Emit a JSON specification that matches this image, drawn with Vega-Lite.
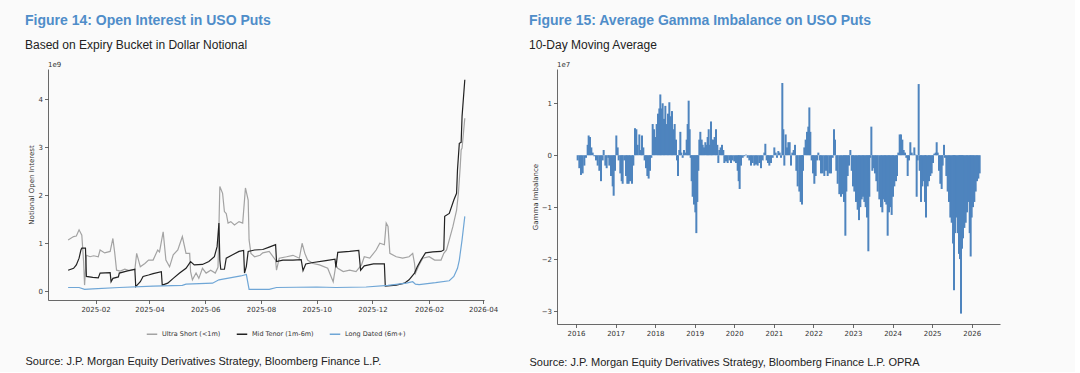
{
  "$schema": "https://vega.github.io/schema/vega-lite/v6.json",
  "background": "#fafafa",
  "padding": {"left": 25, "top": 14, "right": 75, "bottom": 5},
  "spacing": 31,
  "config": {
    "view": {"stroke": null},
    "axis": {"labelFont": "DejaVu Sans", "labelFontSize": 7, "labelColor": "#333", "titleFont": "DejaVu Sans", "titleFontSize": 7, "titleFontWeight": "normal", "titleColor": "#333", "domainColor": "#444", "tickColor": "#444", "domainWidth": 0.8, "tickWidth": 0.8, "tickSize": 3.5, "grid": false, "labelPadding": 2},
    "title": {"anchor": "start", "frame": "bounds", "font": "Liberation Sans", "fontSize": 14, "fontWeight": "bold", "color": "#4f8dc9", "subtitleFont": "Liberation Sans", "subtitleFontSize": 12, "subtitleColor": "#222", "subtitlePadding": 12, "offset": 10}
  },
  "datasets": {
    "oi": [
      {"date": "2025-01-02", "bucket": "Ultra Short (<1m)", "oi": 1.07},
      {"date": "2025-01-08", "bucket": "Ultra Short (<1m)", "oi": 1.14},
      {"date": "2025-01-11", "bucket": "Ultra Short (<1m)", "oi": 1.15},
      {"date": "2025-01-14", "bucket": "Ultra Short (<1m)", "oi": 1.28},
      {"date": "2025-01-17", "bucket": "Ultra Short (<1m)", "oi": 1.17},
      {"date": "2025-01-19", "bucket": "Ultra Short (<1m)", "oi": 0.6},
      {"date": "2025-01-20", "bucket": "Ultra Short (<1m)", "oi": 0.13},
      {"date": "2025-01-22", "bucket": "Ultra Short (<1m)", "oi": 0.75},
      {"date": "2025-01-26", "bucket": "Ultra Short (<1m)", "oi": 0.72},
      {"date": "2025-01-30", "bucket": "Ultra Short (<1m)", "oi": 0.74},
      {"date": "2025-02-04", "bucket": "Ultra Short (<1m)", "oi": 0.72},
      {"date": "2025-02-06", "bucket": "Ultra Short (<1m)", "oi": 0.86},
      {"date": "2025-02-11", "bucket": "Ultra Short (<1m)", "oi": 0.8},
      {"date": "2025-02-17", "bucket": "Ultra Short (<1m)", "oi": 0.83},
      {"date": "2025-02-20", "bucket": "Ultra Short (<1m)", "oi": 1.1},
      {"date": "2025-02-22", "bucket": "Ultra Short (<1m)", "oi": 0.8},
      {"date": "2025-02-24", "bucket": "Ultra Short (<1m)", "oi": 0.44},
      {"date": "2025-02-28", "bucket": "Ultra Short (<1m)", "oi": 0.42},
      {"date": "2025-03-05", "bucket": "Ultra Short (<1m)", "oi": 0.46},
      {"date": "2025-03-10", "bucket": "Ultra Short (<1m)", "oi": 0.43},
      {"date": "2025-03-16", "bucket": "Ultra Short (<1m)", "oi": 0.45},
      {"date": "2025-03-18", "bucket": "Ultra Short (<1m)", "oi": 0.79},
      {"date": "2025-03-22", "bucket": "Ultra Short (<1m)", "oi": 0.51},
      {"date": "2025-03-27", "bucket": "Ultra Short (<1m)", "oi": 0.58},
      {"date": "2025-03-31", "bucket": "Ultra Short (<1m)", "oi": 0.65},
      {"date": "2025-04-05", "bucket": "Ultra Short (<1m)", "oi": 0.65},
      {"date": "2025-04-10", "bucket": "Ultra Short (<1m)", "oi": 0.86},
      {"date": "2025-04-12", "bucket": "Ultra Short (<1m)", "oi": 0.82},
      {"date": "2025-04-16", "bucket": "Ultra Short (<1m)", "oi": 1.24},
      {"date": "2025-04-19", "bucket": "Ultra Short (<1m)", "oi": 0.65},
      {"date": "2025-04-23", "bucket": "Ultra Short (<1m)", "oi": 0.51},
      {"date": "2025-04-27", "bucket": "Ultra Short (<1m)", "oi": 0.76},
      {"date": "2025-05-02", "bucket": "Ultra Short (<1m)", "oi": 0.86},
      {"date": "2025-05-07", "bucket": "Ultra Short (<1m)", "oi": 1.14},
      {"date": "2025-05-11", "bucket": "Ultra Short (<1m)", "oi": 0.79},
      {"date": "2025-05-15", "bucket": "Ultra Short (<1m)", "oi": 0.79},
      {"date": "2025-05-16", "bucket": "Ultra Short (<1m)", "oi": 0.41},
      {"date": "2025-05-18", "bucket": "Ultra Short (<1m)", "oi": 0.24},
      {"date": "2025-05-22", "bucket": "Ultra Short (<1m)", "oi": 0.38},
      {"date": "2025-05-25", "bucket": "Ultra Short (<1m)", "oi": 0.27},
      {"date": "2025-05-29", "bucket": "Ultra Short (<1m)", "oi": 0.48},
      {"date": "2025-06-02", "bucket": "Ultra Short (<1m)", "oi": 0.38},
      {"date": "2025-06-07", "bucket": "Ultra Short (<1m)", "oi": 0.44},
      {"date": "2025-06-12", "bucket": "Ultra Short (<1m)", "oi": 0.38},
      {"date": "2025-06-15", "bucket": "Ultra Short (<1m)", "oi": 0.5},
      {"date": "2025-06-17", "bucket": "Ultra Short (<1m)", "oi": 2.18},
      {"date": "2025-06-20", "bucket": "Ultra Short (<1m)", "oi": 2.04},
      {"date": "2025-06-22", "bucket": "Ultra Short (<1m)", "oi": 1.66},
      {"date": "2025-06-24", "bucket": "Ultra Short (<1m)", "oi": 1.62},
      {"date": "2025-06-26", "bucket": "Ultra Short (<1m)", "oi": 1.42},
      {"date": "2025-06-29", "bucket": "Ultra Short (<1m)", "oi": 1.45},
      {"date": "2025-07-03", "bucket": "Ultra Short (<1m)", "oi": 1.38},
      {"date": "2025-07-08", "bucket": "Ultra Short (<1m)", "oi": 1.45},
      {"date": "2025-07-12", "bucket": "Ultra Short (<1m)", "oi": 1.42},
      {"date": "2025-07-15", "bucket": "Ultra Short (<1m)", "oi": 2.15},
      {"date": "2025-07-18", "bucket": "Ultra Short (<1m)", "oi": 1.9},
      {"date": "2025-07-19", "bucket": "Ultra Short (<1m)", "oi": 1.07},
      {"date": "2025-07-21", "bucket": "Ultra Short (<1m)", "oi": 0.79},
      {"date": "2025-07-25", "bucket": "Ultra Short (<1m)", "oi": 0.72},
      {"date": "2025-07-31", "bucket": "Ultra Short (<1m)", "oi": 0.75},
      {"date": "2025-08-03", "bucket": "Ultra Short (<1m)", "oi": 0.8},
      {"date": "2025-08-10", "bucket": "Ultra Short (<1m)", "oi": 0.83},
      {"date": "2025-08-17", "bucket": "Ultra Short (<1m)", "oi": 0.65},
      {"date": "2025-08-18", "bucket": "Ultra Short (<1m)", "oi": 0.44},
      {"date": "2025-08-21", "bucket": "Ultra Short (<1m)", "oi": 0.69},
      {"date": "2025-08-29", "bucket": "Ultra Short (<1m)", "oi": 0.72},
      {"date": "2025-09-05", "bucket": "Ultra Short (<1m)", "oi": 0.75},
      {"date": "2025-09-12", "bucket": "Ultra Short (<1m)", "oi": 0.69},
      {"date": "2025-09-15", "bucket": "Ultra Short (<1m)", "oi": 1.0},
      {"date": "2025-09-18", "bucket": "Ultra Short (<1m)", "oi": 0.79},
      {"date": "2025-09-21", "bucket": "Ultra Short (<1m)", "oi": 0.65},
      {"date": "2025-09-27", "bucket": "Ultra Short (<1m)", "oi": 0.58},
      {"date": "2025-10-04", "bucket": "Ultra Short (<1m)", "oi": 0.55},
      {"date": "2025-10-13", "bucket": "Ultra Short (<1m)", "oi": 0.48},
      {"date": "2025-10-19", "bucket": "Ultra Short (<1m)", "oi": 0.2},
      {"date": "2025-10-22", "bucket": "Ultra Short (<1m)", "oi": 0.55},
      {"date": "2025-10-24", "bucket": "Ultra Short (<1m)", "oi": 0.48},
      {"date": "2025-10-30", "bucket": "Ultra Short (<1m)", "oi": 0.41},
      {"date": "2025-11-06", "bucket": "Ultra Short (<1m)", "oi": 0.44},
      {"date": "2025-11-13", "bucket": "Ultra Short (<1m)", "oi": 0.41},
      {"date": "2025-11-19", "bucket": "Ultra Short (<1m)", "oi": 0.55},
      {"date": "2025-11-22", "bucket": "Ultra Short (<1m)", "oi": 0.72},
      {"date": "2025-11-28", "bucket": "Ultra Short (<1m)", "oi": 0.69},
      {"date": "2025-12-05", "bucket": "Ultra Short (<1m)", "oi": 0.86},
      {"date": "2025-12-09", "bucket": "Ultra Short (<1m)", "oi": 1.0},
      {"date": "2025-12-14", "bucket": "Ultra Short (<1m)", "oi": 0.97},
      {"date": "2025-12-16", "bucket": "Ultra Short (<1m)", "oi": 1.42},
      {"date": "2025-12-18", "bucket": "Ultra Short (<1m)", "oi": 1.35},
      {"date": "2025-12-20", "bucket": "Ultra Short (<1m)", "oi": 0.79},
      {"date": "2025-12-27", "bucket": "Ultra Short (<1m)", "oi": 0.72},
      {"date": "2026-01-03", "bucket": "Ultra Short (<1m)", "oi": 0.69},
      {"date": "2026-01-10", "bucket": "Ultra Short (<1m)", "oi": 0.72},
      {"date": "2026-01-14", "bucket": "Ultra Short (<1m)", "oi": 0.79},
      {"date": "2026-01-16", "bucket": "Ultra Short (<1m)", "oi": 0.58},
      {"date": "2026-01-17", "bucket": "Ultra Short (<1m)", "oi": 0.38},
      {"date": "2026-01-21", "bucket": "Ultra Short (<1m)", "oi": 0.55},
      {"date": "2026-01-25", "bucket": "Ultra Short (<1m)", "oi": 0.69},
      {"date": "2026-02-01", "bucket": "Ultra Short (<1m)", "oi": 0.72},
      {"date": "2026-02-07", "bucket": "Ultra Short (<1m)", "oi": 0.65},
      {"date": "2026-02-14", "bucket": "Ultra Short (<1m)", "oi": 0.65},
      {"date": "2026-02-17", "bucket": "Ultra Short (<1m)", "oi": 0.79},
      {"date": "2026-02-20", "bucket": "Ultra Short (<1m)", "oi": 0.86},
      {"date": "2026-02-23", "bucket": "Ultra Short (<1m)", "oi": 1.07},
      {"date": "2026-02-27", "bucket": "Ultra Short (<1m)", "oi": 1.35},
      {"date": "2026-03-03", "bucket": "Ultra Short (<1m)", "oi": 1.69},
      {"date": "2026-03-05", "bucket": "Ultra Short (<1m)", "oi": 2.04},
      {"date": "2026-03-07", "bucket": "Ultra Short (<1m)", "oi": 2.6},
      {"date": "2026-03-08", "bucket": "Ultra Short (<1m)", "oi": 2.94},
      {"date": "2026-03-09", "bucket": "Ultra Short (<1m)", "oi": 2.98},
      {"date": "2026-03-12", "bucket": "Ultra Short (<1m)", "oi": 3.6},
      {"date": "2025-01-02", "bucket": "Mid Tenor (1m-6m)", "oi": 0.44},
      {"date": "2025-01-08", "bucket": "Mid Tenor (1m-6m)", "oi": 0.48},
      {"date": "2025-01-11", "bucket": "Mid Tenor (1m-6m)", "oi": 0.55},
      {"date": "2025-01-14", "bucket": "Mid Tenor (1m-6m)", "oi": 0.69},
      {"date": "2025-01-16", "bucket": "Mid Tenor (1m-6m)", "oi": 0.86},
      {"date": "2025-01-17", "bucket": "Mid Tenor (1m-6m)", "oi": 0.9},
      {"date": "2025-01-21", "bucket": "Mid Tenor (1m-6m)", "oi": 0.9},
      {"date": "2025-01-22", "bucket": "Mid Tenor (1m-6m)", "oi": 0.31},
      {"date": "2025-01-29", "bucket": "Mid Tenor (1m-6m)", "oi": 0.29},
      {"date": "2025-02-04", "bucket": "Mid Tenor (1m-6m)", "oi": 0.28},
      {"date": "2025-02-06", "bucket": "Mid Tenor (1m-6m)", "oi": 0.38},
      {"date": "2025-02-17", "bucket": "Mid Tenor (1m-6m)", "oi": 0.39},
      {"date": "2025-02-18", "bucket": "Mid Tenor (1m-6m)", "oi": 0.2},
      {"date": "2025-02-20", "bucket": "Mid Tenor (1m-6m)", "oi": 0.27},
      {"date": "2025-02-26", "bucket": "Mid Tenor (1m-6m)", "oi": 0.3},
      {"date": "2025-02-27", "bucket": "Mid Tenor (1m-6m)", "oi": 0.38},
      {"date": "2025-03-07", "bucket": "Mid Tenor (1m-6m)", "oi": 0.42},
      {"date": "2025-03-16", "bucket": "Mid Tenor (1m-6m)", "oi": 0.46},
      {"date": "2025-03-17", "bucket": "Mid Tenor (1m-6m)", "oi": 0.1},
      {"date": "2025-03-22", "bucket": "Mid Tenor (1m-6m)", "oi": 0.2},
      {"date": "2025-03-25", "bucket": "Mid Tenor (1m-6m)", "oi": 0.31},
      {"date": "2025-03-31", "bucket": "Mid Tenor (1m-6m)", "oi": 0.34},
      {"date": "2025-04-05", "bucket": "Mid Tenor (1m-6m)", "oi": 0.37},
      {"date": "2025-04-14", "bucket": "Mid Tenor (1m-6m)", "oi": 0.41},
      {"date": "2025-04-15", "bucket": "Mid Tenor (1m-6m)", "oi": 0.13},
      {"date": "2025-04-21", "bucket": "Mid Tenor (1m-6m)", "oi": 0.17},
      {"date": "2025-04-27", "bucket": "Mid Tenor (1m-6m)", "oi": 0.27},
      {"date": "2025-05-04", "bucket": "Mid Tenor (1m-6m)", "oi": 0.38},
      {"date": "2025-05-11", "bucket": "Mid Tenor (1m-6m)", "oi": 0.48},
      {"date": "2025-05-16", "bucket": "Mid Tenor (1m-6m)", "oi": 0.62},
      {"date": "2025-05-20", "bucket": "Mid Tenor (1m-6m)", "oi": 0.55},
      {"date": "2025-05-29", "bucket": "Mid Tenor (1m-6m)", "oi": 0.56},
      {"date": "2025-06-05", "bucket": "Mid Tenor (1m-6m)", "oi": 0.62},
      {"date": "2025-06-11", "bucket": "Mid Tenor (1m-6m)", "oi": 0.72},
      {"date": "2025-06-14", "bucket": "Mid Tenor (1m-6m)", "oi": 0.93},
      {"date": "2025-06-16", "bucket": "Mid Tenor (1m-6m)", "oi": 1.42},
      {"date": "2025-06-17", "bucket": "Mid Tenor (1m-6m)", "oi": 0.65},
      {"date": "2025-06-18", "bucket": "Mid Tenor (1m-6m)", "oi": 0.46},
      {"date": "2025-06-22", "bucket": "Mid Tenor (1m-6m)", "oi": 0.46},
      {"date": "2025-06-24", "bucket": "Mid Tenor (1m-6m)", "oi": 0.69},
      {"date": "2025-07-01", "bucket": "Mid Tenor (1m-6m)", "oi": 0.76},
      {"date": "2025-07-08", "bucket": "Mid Tenor (1m-6m)", "oi": 0.83},
      {"date": "2025-07-13", "bucket": "Mid Tenor (1m-6m)", "oi": 0.85},
      {"date": "2025-07-14", "bucket": "Mid Tenor (1m-6m)", "oi": 0.38},
      {"date": "2025-07-16", "bucket": "Mid Tenor (1m-6m)", "oi": 0.52},
      {"date": "2025-07-18", "bucket": "Mid Tenor (1m-6m)", "oi": 0.83},
      {"date": "2025-07-25", "bucket": "Mid Tenor (1m-6m)", "oi": 0.86},
      {"date": "2025-08-03", "bucket": "Mid Tenor (1m-6m)", "oi": 0.87},
      {"date": "2025-08-10", "bucket": "Mid Tenor (1m-6m)", "oi": 0.92},
      {"date": "2025-08-17", "bucket": "Mid Tenor (1m-6m)", "oi": 0.97},
      {"date": "2025-08-18", "bucket": "Mid Tenor (1m-6m)", "oi": 0.62},
      {"date": "2025-08-25", "bucket": "Mid Tenor (1m-6m)", "oi": 0.65},
      {"date": "2025-09-05", "bucket": "Mid Tenor (1m-6m)", "oi": 0.65},
      {"date": "2025-09-14", "bucket": "Mid Tenor (1m-6m)", "oi": 0.66},
      {"date": "2025-09-16", "bucket": "Mid Tenor (1m-6m)", "oi": 0.43},
      {"date": "2025-09-19", "bucket": "Mid Tenor (1m-6m)", "oi": 0.57},
      {"date": "2025-09-27", "bucket": "Mid Tenor (1m-6m)", "oi": 0.6},
      {"date": "2025-10-11", "bucket": "Mid Tenor (1m-6m)", "oi": 0.64},
      {"date": "2025-10-21", "bucket": "Mid Tenor (1m-6m)", "oi": 0.67},
      {"date": "2025-10-22", "bucket": "Mid Tenor (1m-6m)", "oi": 0.5},
      {"date": "2025-10-24", "bucket": "Mid Tenor (1m-6m)", "oi": 0.81},
      {"date": "2025-11-06", "bucket": "Mid Tenor (1m-6m)", "oi": 0.83},
      {"date": "2025-11-16", "bucket": "Mid Tenor (1m-6m)", "oi": 0.85},
      {"date": "2025-11-18", "bucket": "Mid Tenor (1m-6m)", "oi": 0.44},
      {"date": "2025-11-22", "bucket": "Mid Tenor (1m-6m)", "oi": 0.53},
      {"date": "2025-12-02", "bucket": "Mid Tenor (1m-6m)", "oi": 0.57},
      {"date": "2025-12-14", "bucket": "Mid Tenor (1m-6m)", "oi": 0.57},
      {"date": "2025-12-15", "bucket": "Mid Tenor (1m-6m)", "oi": 0.11},
      {"date": "2025-12-27", "bucket": "Mid Tenor (1m-6m)", "oi": 0.13},
      {"date": "2026-01-05", "bucket": "Mid Tenor (1m-6m)", "oi": 0.17},
      {"date": "2026-01-10", "bucket": "Mid Tenor (1m-6m)", "oi": 0.24},
      {"date": "2026-01-16", "bucket": "Mid Tenor (1m-6m)", "oi": 0.38},
      {"date": "2026-01-19", "bucket": "Mid Tenor (1m-6m)", "oi": 0.51},
      {"date": "2026-01-23", "bucket": "Mid Tenor (1m-6m)", "oi": 0.65},
      {"date": "2026-01-28", "bucket": "Mid Tenor (1m-6m)", "oi": 0.8},
      {"date": "2026-02-05", "bucket": "Mid Tenor (1m-6m)", "oi": 0.82},
      {"date": "2026-02-14", "bucket": "Mid Tenor (1m-6m)", "oi": 0.83},
      {"date": "2026-02-17", "bucket": "Mid Tenor (1m-6m)", "oi": 0.86},
      {"date": "2026-02-18", "bucket": "Mid Tenor (1m-6m)", "oi": 1.56},
      {"date": "2026-02-23", "bucket": "Mid Tenor (1m-6m)", "oi": 1.62},
      {"date": "2026-02-28", "bucket": "Mid Tenor (1m-6m)", "oi": 1.9},
      {"date": "2026-03-03", "bucket": "Mid Tenor (1m-6m)", "oi": 2.04},
      {"date": "2026-03-04", "bucket": "Mid Tenor (1m-6m)", "oi": 2.53},
      {"date": "2026-03-06", "bucket": "Mid Tenor (1m-6m)", "oi": 3.08},
      {"date": "2026-03-08", "bucket": "Mid Tenor (1m-6m)", "oi": 3.1},
      {"date": "2026-03-09", "bucket": "Mid Tenor (1m-6m)", "oi": 3.64},
      {"date": "2026-03-12", "bucket": "Mid Tenor (1m-6m)", "oi": 4.4},
      {"date": "2025-01-02", "bucket": "Long Dated (6m+)", "oi": 0.08},
      {"date": "2025-01-14", "bucket": "Long Dated (6m+)", "oi": 0.08},
      {"date": "2025-01-20", "bucket": "Long Dated (6m+)", "oi": 0.04},
      {"date": "2025-01-29", "bucket": "Long Dated (6m+)", "oi": 0.05},
      {"date": "2025-02-27", "bucket": "Long Dated (6m+)", "oi": 0.08},
      {"date": "2025-04-05", "bucket": "Long Dated (6m+)", "oi": 0.11},
      {"date": "2025-05-07", "bucket": "Long Dated (6m+)", "oi": 0.125},
      {"date": "2025-05-11", "bucket": "Long Dated (6m+)", "oi": 0.15},
      {"date": "2025-06-09", "bucket": "Long Dated (6m+)", "oi": 0.17},
      {"date": "2025-06-16", "bucket": "Long Dated (6m+)", "oi": 0.24},
      {"date": "2025-07-01", "bucket": "Long Dated (6m+)", "oi": 0.29},
      {"date": "2025-07-10", "bucket": "Long Dated (6m+)", "oi": 0.32},
      {"date": "2025-07-16", "bucket": "Long Dated (6m+)", "oi": 0.35},
      {"date": "2025-07-19", "bucket": "Long Dated (6m+)", "oi": 0.04},
      {"date": "2025-08-10", "bucket": "Long Dated (6m+)", "oi": 0.04},
      {"date": "2025-08-18", "bucket": "Long Dated (6m+)", "oi": 0.08},
      {"date": "2025-10-01", "bucket": "Long Dated (6m+)", "oi": 0.09},
      {"date": "2025-10-22", "bucket": "Long Dated (6m+)", "oi": 0.08},
      {"date": "2025-11-24", "bucket": "Long Dated (6m+)", "oi": 0.09},
      {"date": "2025-12-18", "bucket": "Long Dated (6m+)", "oi": 0.125},
      {"date": "2026-01-07", "bucket": "Long Dated (6m+)", "oi": 0.17},
      {"date": "2026-01-14", "bucket": "Long Dated (6m+)", "oi": 0.2},
      {"date": "2026-01-17", "bucket": "Long Dated (6m+)", "oi": 0.15},
      {"date": "2026-01-21", "bucket": "Long Dated (6m+)", "oi": 0.14},
      {"date": "2026-02-08", "bucket": "Long Dated (6m+)", "oi": 0.18},
      {"date": "2026-02-23", "bucket": "Long Dated (6m+)", "oi": 0.22},
      {"date": "2026-02-28", "bucket": "Long Dated (6m+)", "oi": 0.31},
      {"date": "2026-03-04", "bucket": "Long Dated (6m+)", "oi": 0.48},
      {"date": "2026-03-06", "bucket": "Long Dated (6m+)", "oi": 0.65},
      {"date": "2026-03-09", "bucket": "Long Dated (6m+)", "oi": 1.07},
      {"date": "2026-03-12", "bucket": "Long Dated (6m+)", "oi": 1.56}
    ],
    "gamma": [
      {"year": 2016.042, "g": -0.1}, {"year": 2016.084, "g": -0.25}, {"year": 2016.126, "g": -0.38}, {"year": 2016.168, "g": -0.35}, {"year": 2016.211, "g": -0.2}, {"year": 2016.253, "g": -0.05}, {"year": 2016.295, "g": 0.2}, {"year": 2016.32, "g": 0.38}, {"year": 2016.354, "g": 0.35}, {"year": 2016.388, "g": 0.15}, {"year": 2016.421, "g": 0.05}, {"year": 2016.463, "g": -0.02}, {"year": 2016.505, "g": -0.1}, {"year": 2016.548, "g": -0.2}, {"year": 2016.59, "g": -0.3}, {"year": 2016.632, "g": -0.5}, {"year": 2016.674, "g": -0.1}, {"year": 2016.699, "g": 0.1}, {"year": 2016.741, "g": -0.2}, {"year": 2016.775, "g": -0.25}, {"year": 2016.817, "g": -0.05}, {"year": 2016.842, "g": -0.2}, {"year": 2016.885, "g": -0.4}, {"year": 2016.927, "g": -0.6}, {"year": 2016.952, "g": -0.78}, {"year": 2016.986, "g": -0.3},
      {"year": 2017.019, "g": 0.38}, {"year": 2017.053, "g": 0.15}, {"year": 2017.078, "g": -0.1}, {"year": 2017.12, "g": -0.35}, {"year": 2017.154, "g": -0.5}, {"year": 2017.179, "g": -0.55}, {"year": 2017.221, "g": -0.1}, {"year": 2017.264, "g": -0.4}, {"year": 2017.297, "g": -0.55}, {"year": 2017.331, "g": -0.55}, {"year": 2017.365, "g": -0.5}, {"year": 2017.415, "g": -0.55}, {"year": 2017.449, "g": -0.2}, {"year": 2017.491, "g": 0.52}, {"year": 2017.525, "g": 0.5}, {"year": 2017.558, "g": 0.2}, {"year": 2017.601, "g": 0.4}, {"year": 2017.643, "g": 0.1}, {"year": 2017.668, "g": 0.38}, {"year": 2017.702, "g": 0.15}, {"year": 2017.735, "g": -0.1}, {"year": 2017.769, "g": -0.25}, {"year": 2017.803, "g": -0.4}, {"year": 2017.836, "g": -0.45}, {"year": 2017.87, "g": -0.3}, {"year": 2017.904, "g": -0.05}, {"year": 2017.938, "g": 0.6}, {"year": 2017.971, "g": 0.5},
      {"year": 2018.005, "g": 0.35}, {"year": 2018.039, "g": 0.6}, {"year": 2018.072, "g": 0.8}, {"year": 2018.106, "g": 0.9}, {"year": 2018.131, "g": 1.17}, {"year": 2018.157, "g": 0.9}, {"year": 2018.19, "g": 1.0}, {"year": 2018.224, "g": 0.7}, {"year": 2018.258, "g": 0.95}, {"year": 2018.291, "g": 0.6}, {"year": 2018.325, "g": 0.8}, {"year": 2018.359, "g": 1.02}, {"year": 2018.392, "g": 0.75}, {"year": 2018.426, "g": 0.85}, {"year": 2018.46, "g": 0.5}, {"year": 2018.494, "g": 0.6}, {"year": 2018.527, "g": 0.3}, {"year": 2018.552, "g": -0.1}, {"year": 2018.578, "g": -0.4}, {"year": 2018.611, "g": 0.1}, {"year": 2018.637, "g": 0.45}, {"year": 2018.662, "g": 0.05}, {"year": 2018.696, "g": -0.05}, {"year": 2018.729, "g": 0.1}, {"year": 2018.763, "g": 0.05}, {"year": 2018.797, "g": 0.3}, {"year": 2018.822, "g": 0.6}, {"year": 2018.847, "g": 1.05}, {"year": 2018.873, "g": 0.5}, {"year": 2018.898, "g": -0.05}, {"year": 2018.923, "g": -0.5}, {"year": 2018.948, "g": -0.8}, {"year": 2018.982, "g": -0.95},
      {"year": 2019.016, "g": -1.1}, {"year": 2019.041, "g": -1.5}, {"year": 2019.066, "g": -0.9}, {"year": 2019.092, "g": -0.3}, {"year": 2019.117, "g": 0.3}, {"year": 2019.142, "g": 0.45}, {"year": 2019.176, "g": 0.3}, {"year": 2019.201, "g": 0.2}, {"year": 2019.235, "g": 0.15}, {"year": 2019.269, "g": 0.25}, {"year": 2019.302, "g": 0.2}, {"year": 2019.327, "g": 0.35}, {"year": 2019.353, "g": 0.5}, {"year": 2019.378, "g": 0.2}, {"year": 2019.412, "g": 0.65}, {"year": 2019.437, "g": 0.3}, {"year": 2019.471, "g": 0.3}, {"year": 2019.504, "g": 0.35}, {"year": 2019.538, "g": 0.5}, {"year": 2019.572, "g": 0.2}, {"year": 2019.597, "g": -0.15}, {"year": 2019.622, "g": 0.1}, {"year": 2019.656, "g": 0.15}, {"year": 2019.69, "g": 0.2}, {"year": 2019.723, "g": 0.1}, {"year": 2019.749, "g": -0.15}, {"year": 2019.791, "g": -0.12}, {"year": 2019.833, "g": -0.15}, {"year": 2019.875, "g": -0.1}, {"year": 2019.917, "g": -0.15}, {"year": 2019.959, "g": -0.1},
      {"year": 2020.001, "g": -0.12}, {"year": 2020.044, "g": -0.15}, {"year": 2020.086, "g": -0.3}, {"year": 2020.111, "g": -0.5}, {"year": 2020.136, "g": -0.65}, {"year": 2020.17, "g": -0.2}, {"year": 2020.212, "g": -0.05}, {"year": 2020.254, "g": -0.02}, {"year": 2020.296, "g": 0.01}, {"year": 2020.338, "g": -0.05}, {"year": 2020.38, "g": -0.1}, {"year": 2020.423, "g": -0.2}, {"year": 2020.465, "g": -0.15}, {"year": 2020.507, "g": -0.2}, {"year": 2020.549, "g": -0.18}, {"year": 2020.591, "g": -0.2}, {"year": 2020.633, "g": -0.15}, {"year": 2020.675, "g": -0.25}, {"year": 2020.717, "g": -0.1}, {"year": 2020.76, "g": 0.05}, {"year": 2020.785, "g": 0.22}, {"year": 2020.819, "g": -0.1}, {"year": 2020.852, "g": -0.15}, {"year": 2020.886, "g": -0.2}, {"year": 2020.928, "g": -0.15}, {"year": 2020.97, "g": -0.05},
      {"year": 2021.012, "g": 0.15}, {"year": 2021.046, "g": 0.05}, {"year": 2021.08, "g": -0.05}, {"year": 2021.113, "g": 0.08}, {"year": 2021.147, "g": 0.05}, {"year": 2021.181, "g": -0.05}, {"year": 2021.214, "g": 1.39}, {"year": 2021.24, "g": 0.5}, {"year": 2021.265, "g": -0.2}, {"year": 2021.299, "g": 0.4}, {"year": 2021.332, "g": 0.15}, {"year": 2021.366, "g": 0.25}, {"year": 2021.4, "g": 0.25}, {"year": 2021.433, "g": -0.2}, {"year": 2021.467, "g": 0.05}, {"year": 2021.501, "g": 0.1}, {"year": 2021.535, "g": 0.2}, {"year": 2021.568, "g": -0.3}, {"year": 2021.602, "g": -0.6}, {"year": 2021.644, "g": -0.7}, {"year": 2021.678, "g": -0.9}, {"year": 2021.711, "g": -0.95}, {"year": 2021.737, "g": -0.3}, {"year": 2021.77, "g": 0.15}, {"year": 2021.804, "g": 0.3}, {"year": 2021.838, "g": 0.45}, {"year": 2021.871, "g": 0.55}, {"year": 2021.897, "g": 0.92}, {"year": 2021.922, "g": 0.45}, {"year": 2021.956, "g": -0.1}, {"year": 2021.989, "g": -0.35},
      {"year": 2022.023, "g": -0.55}, {"year": 2022.057, "g": -0.4}, {"year": 2022.09, "g": -0.1}, {"year": 2022.124, "g": 0.05}, {"year": 2022.158, "g": -0.1}, {"year": 2022.192, "g": -0.35}, {"year": 2022.234, "g": -0.35}, {"year": 2022.276, "g": -0.4}, {"year": 2022.318, "g": -0.3}, {"year": 2022.36, "g": -0.4}, {"year": 2022.402, "g": -0.35}, {"year": 2022.444, "g": -0.35}, {"year": 2022.486, "g": -0.05}, {"year": 2022.52, "g": 0.5}, {"year": 2022.545, "g": 0.3}, {"year": 2022.579, "g": -0.3}, {"year": 2022.613, "g": -0.55}, {"year": 2022.655, "g": -0.75}, {"year": 2022.697, "g": -0.8}, {"year": 2022.739, "g": -0.75}, {"year": 2022.773, "g": -0.9}, {"year": 2022.807, "g": -1.55}, {"year": 2022.832, "g": -0.7}, {"year": 2022.866, "g": -0.4}, {"year": 2022.899, "g": -0.2}, {"year": 2022.933, "g": 0.1}, {"year": 2022.967, "g": -0.3},
      {"year": 2023.0, "g": -0.6}, {"year": 2023.034, "g": -0.7}, {"year": 2023.076, "g": -0.9}, {"year": 2023.118, "g": -1.05}, {"year": 2023.152, "g": -1.25}, {"year": 2023.186, "g": -1.0}, {"year": 2023.219, "g": -0.85}, {"year": 2023.253, "g": -0.8}, {"year": 2023.287, "g": -0.9}, {"year": 2023.32, "g": -1.0}, {"year": 2023.354, "g": -1.2}, {"year": 2023.388, "g": -1.85}, {"year": 2023.413, "g": -0.8}, {"year": 2023.438, "g": -0.05}, {"year": 2023.464, "g": 0.55}, {"year": 2023.489, "g": -0.3}, {"year": 2023.514, "g": -0.25}, {"year": 2023.556, "g": -0.35}, {"year": 2023.59, "g": -0.5}, {"year": 2023.624, "g": -0.7}, {"year": 2023.666, "g": -0.85}, {"year": 2023.708, "g": -1.0}, {"year": 2023.742, "g": -1.1}, {"year": 2023.775, "g": -0.85}, {"year": 2023.809, "g": -0.9}, {"year": 2023.843, "g": -0.95}, {"year": 2023.876, "g": -1.55}, {"year": 2023.91, "g": -1.1}, {"year": 2023.944, "g": -1.0}, {"year": 2023.977, "g": -1.15},
      {"year": 2024.011, "g": -0.8}, {"year": 2024.045, "g": -0.6}, {"year": 2024.087, "g": -0.5}, {"year": 2024.112, "g": -0.4}, {"year": 2024.146, "g": 0.05}, {"year": 2024.18, "g": 0.4}, {"year": 2024.213, "g": 0.4}, {"year": 2024.247, "g": 0.3}, {"year": 2024.281, "g": 0.1}, {"year": 2024.314, "g": 0.05}, {"year": 2024.348, "g": -0.05}, {"year": 2024.382, "g": -0.4}, {"year": 2024.416, "g": -0.1}, {"year": 2024.449, "g": 0.25}, {"year": 2024.483, "g": 0.05}, {"year": 2024.517, "g": 0.01}, {"year": 2024.55, "g": 0.15}, {"year": 2024.584, "g": 0.01}, {"year": 2024.609, "g": -0.8}, {"year": 2024.635, "g": -0.1}, {"year": 2024.66, "g": 1.37}, {"year": 2024.685, "g": -0.3}, {"year": 2024.719, "g": -0.9}, {"year": 2024.752, "g": -0.6}, {"year": 2024.786, "g": -0.5}, {"year": 2024.82, "g": -0.9}, {"year": 2024.845, "g": -1.2}, {"year": 2024.887, "g": -0.6}, {"year": 2024.921, "g": -0.5}, {"year": 2024.955, "g": -0.4}, {"year": 2024.988, "g": -0.35},
      {"year": 2025.022, "g": -0.15}, {"year": 2025.056, "g": 0.03}, {"year": 2025.09, "g": 0.05}, {"year": 2025.115, "g": 0.25}, {"year": 2025.14, "g": 0.05}, {"year": 2025.174, "g": -0.3}, {"year": 2025.207, "g": -0.55}, {"year": 2025.241, "g": -0.65}, {"year": 2025.266, "g": -0.2}, {"year": 2025.3, "g": 0.2}, {"year": 2025.325, "g": -0.05}, {"year": 2025.359, "g": -0.4}, {"year": 2025.393, "g": -0.7}, {"year": 2025.426, "g": -0.9}, {"year": 2025.46, "g": -1.2}, {"year": 2025.494, "g": -1.3}, {"year": 2025.528, "g": -1.7}, {"year": 2025.553, "g": -2.6}, {"year": 2025.578, "g": -1.5}, {"year": 2025.612, "g": -1.2}, {"year": 2025.645, "g": -1.5}, {"year": 2025.679, "g": -1.9}, {"year": 2025.704, "g": -2.0}, {"year": 2025.73, "g": -3.05}, {"year": 2025.755, "g": -1.8}, {"year": 2025.78, "g": -1.6}, {"year": 2025.814, "g": -1.4}, {"year": 2025.848, "g": -1.3}, {"year": 2025.881, "g": -1.1}, {"year": 2025.915, "g": -0.9}, {"year": 2025.949, "g": -1.5}, {"year": 2025.974, "g": -1.95}, {"year": 2025.999, "g": -1.2},
      {"year": 2026.033, "g": -1.0}, {"year": 2026.066, "g": -0.9}, {"year": 2026.1, "g": -0.7}, {"year": 2026.134, "g": -0.5}, {"year": 2026.168, "g": -0.45}, {"year": 2026.201, "g": -0.35}
    ]
  },
  "hconcat": [
    {
      "width": 436,
      "height": 231,
      "title": {"text": "Figure 14: Open Interest in USO Puts", "subtitle": "Based on Expiry Bucket in Dollar Notional"},
      "layer": [
        {
          "data": {"name": "oi"},
          "mark": {"type": "line", "strokeWidth": 1.2},
          "encoding": {
            "x": {
              "field": "date", "type": "temporal",
              "scale": {"type": "utc", "domain": [{"year": 2024, "month": 12, "date": 11, "utc": true}, {"year": 2026, "month": 4, "date": 2, "utc": true}]},
              "axis": {
                "format": "%Y-%m",
                "values": [{"year": 2025, "month": 2, "date": 1, "utc": true}, {"year": 2025, "month": 4, "date": 1, "utc": true}, {"year": 2025, "month": 6, "date": 1, "utc": true}, {"year": 2025, "month": 8, "date": 1, "utc": true}, {"year": 2025, "month": 10, "date": 1, "utc": true}, {"year": 2025, "month": 12, "date": 1, "utc": true}, {"year": 2026, "month": 2, "date": 1, "utc": true}, {"year": 2026, "month": 4, "date": 1, "utc": true}],
                "labelFlush": false,
                "title": "Source: J.P. Morgan Equity Derivatives Strategy, Bloomberg Finance L.P.",
                "titleFont": "Liberation Sans", "titleFontSize": 11, "titleColor": "#222",
                "titleAlign": "left", "titleBaseline": "alphabetic", "titleX": -23, "titleY": 64
              }
            },
            "y": {
              "field": "oi", "type": "quantitative",
              "scale": {"domain": [-0.18, 4.625], "nice": false, "zero": false},
              "axis": {"values": [0, 1, 2, 3, 4], "format": "d", "title": "Notional Open Interest", "titlePadding": 4}
            },
            "color": {
              "field": "bucket", "type": "nominal",
              "scale": {"domain": ["Ultra Short (<1m)", "Mid Tenor (1m-6m)", "Long Dated (6m+)"], "range": ["#a3a3a3", "#222222", "#6fa6d6"]},
              "legend": {"title": null, "orient": "none", "legendX": 98, "legendY": 259, "direction": "horizontal", "symbolType": "stroke", "symbolSize": 110, "symbolStrokeWidth": 1.5, "labelFont": "DejaVu Sans", "labelFontSize": 6.5, "labelColor": "#333", "columnPadding": 12, "labelOffset": 4}
            }
          }
        },
        {
          "data": {"values": [{"label": "1e9"}]},
          "mark": {"type": "text", "align": "left", "baseline": "bottom", "dy": -1, "font": "DejaVu Sans", "fontSize": 7, "color": "#333"},
          "encoding": {
            "x": {"datum": {"year": 2024, "month": 12, "date": 11, "utc": true}, "type": "temporal"},
            "y": {"datum": 4.625},
            "text": {"field": "label"}
          }
        }
      ]
    },
    {
      "width": 443,
      "height": 255,
      "title": {"text": "Figure 15: Average Gamma Imbalance on USO Puts", "subtitle": "10-Day Moving Average"},
      "layer": [
        {
          "data": {"name": "gamma"},
          "mark": {"type": "rule", "strokeWidth": 2, "color": "#4e84be"},
          "encoding": {
            "x": {
              "field": "year", "type": "quantitative",
              "scale": {"domain": [2015.52, 2026.715], "nice": false, "zero": false},
              "axis": {
                "values": [2016, 2017, 2018, 2019, 2020, 2021, 2022, 2023, 2024, 2025, 2026], "format": "d",
                "title": "Source: J.P. Morgan Equity Derivatives Strategy, Bloomberg Finance L.P. OPRA",
                "titleFont": "Liberation Sans", "titleFontSize": 11, "titleColor": "#222",
                "titleAlign": "left", "titleBaseline": "alphabetic", "titleX": -28, "titleY": 41
              }
            },
            "y": {
              "field": "g", "type": "quantitative",
              "scale": {"domain": [-3.25, 1.66], "nice": false, "zero": false},
              "axis": {"values": [-3, -2, -1, 0, 1], "format": "d", "title": "Gamma Imbalance", "titlePadding": 3}
            },
            "y2": {"datum": 0}
          }
        },
        {
          "data": {"values": [{"label": "1e7"}]},
          "mark": {"type": "text", "align": "left", "baseline": "bottom", "dy": -1, "font": "DejaVu Sans", "fontSize": 7, "color": "#333"},
          "encoding": {
            "x": {"datum": 2015.52},
            "y": {"datum": 1.66},
            "text": {"field": "label"}
          }
        }
      ]
    }
  ]
}
